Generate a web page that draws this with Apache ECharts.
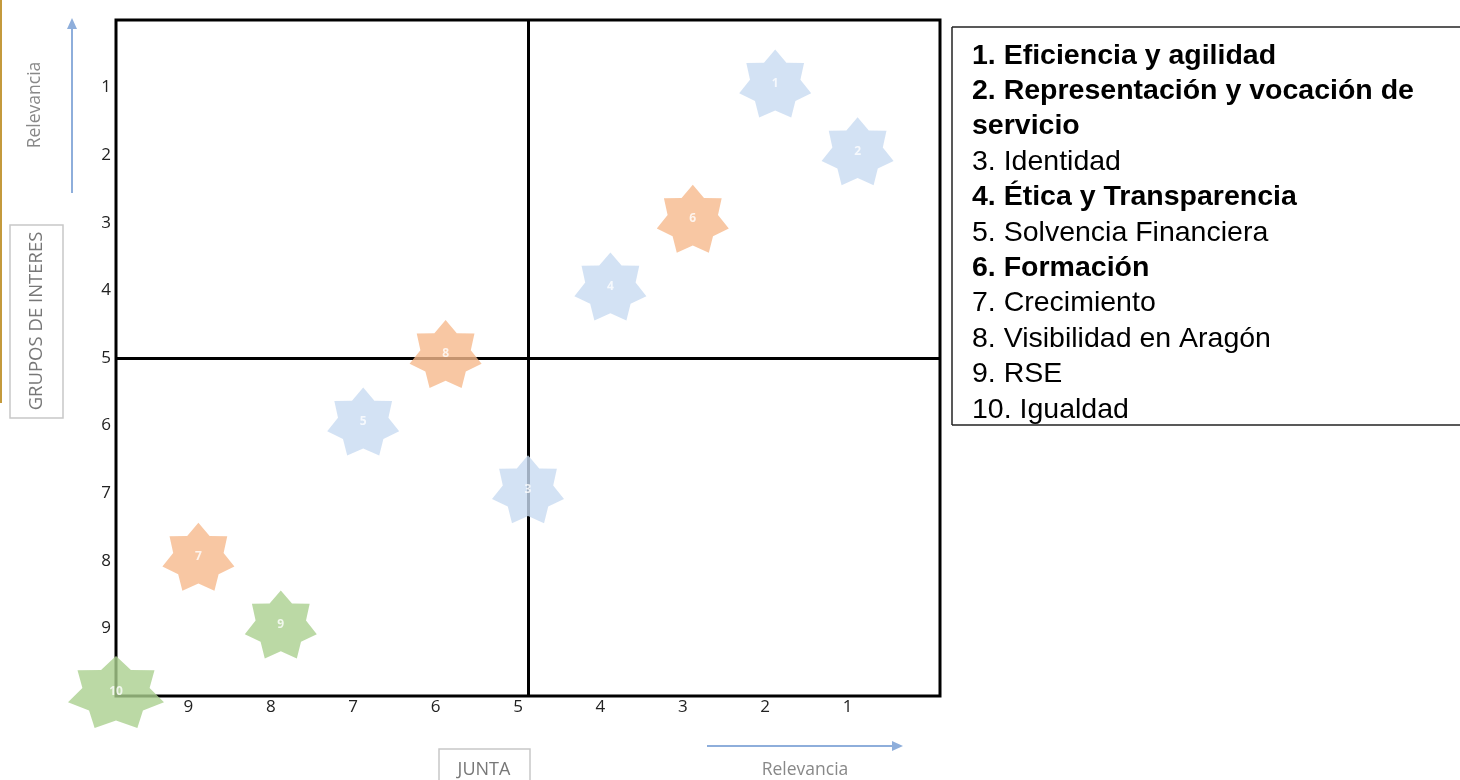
<!DOCTYPE html>
<html>
<head>
<meta charset="utf-8">
<script src="https://cdn.jsdelivr.net/npm/echarts@6/dist/echarts.min.js"></script>
<style>
html,body{margin:0;padding:0;background:#fff;}
#chart{width:1460px;height:780px;}
</style>
</head>
<body>
<div id="chart"></div>
<script>
// ---- data ----
const itemNames = [
  'Eficiencia y agilidad',
  'Representación y vocación de servicio',
  'Identidad',
  'Ética y Transparencia',
  'Solvencia Financiera',
  'Formación',
  'Crecimiento',
  'Visibilidad en Aragón',
  'RSE',
  'Igualdad'
];
const juntaRank  = [2, 1, 5, 4, 7, 3, 9, 6, 8, 10];   // x: JUNTA relevance rank
const gruposRank = [1, 2, 7, 4, 6, 3, 8, 5, 9, 10];   // y: GRUPOS DE INTERES relevance rank
const itemGroup  = ['blue','blue','blue','blue','blue','orange','orange','orange','green','green'];
const boldItems  = [1, 2, 4, 6];
const tickLabels = [1, 2, 3, 4, 5, 6, 7, 8, 9];
const midRank = 5;

// ---- styles ----
const groupColors = { blue: '#c8dbf1', orange: '#f6b98c', green: '#aad08f' };
function starPath(n, inner) {
  let d = '';
  for (let i = 0; i < 2 * n; i++) {
    const r = i % 2 ? inner : 1;
    const a = -Math.PI / 2 + i * Math.PI / n;
    d += (i ? 'L' : 'M') + (r * Math.cos(a)).toFixed(4) + ' ' + (r * Math.sin(a)).toFixed(4);
  }
  return 'path://' + d + 'Z';
}
const STAR = starPath(7, 0.7);

const points = itemNames.map((name, i) => ({
  name: (i + 1) + '. ' + name,
  value: [juntaRank[i], gruposRank[i]],
  label: { formatter: String(i + 1) },
  symbolSize: i === itemNames.length - 1 ? [96, 72] : [72, 68],
  itemStyle: { color: groupColors[itemGroup[i]] }
}));

const tickFmt = v => tickLabels.includes(v) ? String(v) : '';
const labelFont = '"Open Sans", sans-serif';
const legendFamily = '"Liberation Sans", Arial, sans-serif';

// legend text lines with word wrapping
const measureCtx = document.createElement('canvas').getContext('2d');
function wrapWords(text, font, maxW) {
  measureCtx.font = font;
  const words = text.split(' ');
  const lines = [];
  let cur = '';
  words.forEach(w => {
    const test = cur ? cur + ' ' + w : w;
    if (cur && measureCtx.measureText(test).width > maxW) { lines.push(cur); cur = w; }
    else cur = test;
  });
  if (cur) lines.push(cur);
  return lines;
}
const legendX = 972, legendTop = 38, legendLH = 35.4, legendW = 480;
const legendEls = [];
let lineIdx = 0;
itemNames.forEach((n, i) => {
  const bold = boldItems.includes(i + 1);
  const font = (bold ? 'bold ' : '') + '28.5px ' + legendFamily;
  wrapWords((i + 1) + '. ' + n, font, legendW).forEach(t => {
    legendEls.push({
      type: 'text', x: legendX, y: legendTop + lineIdx * legendLH,
      style: { text: t, font: font, fill: '#000', lineHeight: legendLH, verticalAlign: 'top', align: 'left' }
    });
    lineIdx++;
  });
});

const chart = echarts.init(document.getElementById('chart'));
chart.setOption({
  backgroundColor: '#fff',
  animation: false,
  grid: {
    left: 116, top: 20, width: 824, height: 676,
    show: true, borderColor: '#000', borderWidth: 3, backgroundColor: 'transparent',
    containLabel: false, outerBoundsMode: 'none'
  },
  xAxis: {
    type: 'value', inverse: true, min: 0, max: 10, interval: 1,
    axisLine: { show: false }, axisTick: { show: false }, splitLine: { show: false },
    axisLabel: {
      formatter: tickFmt, color: '#222', fontFamily: labelFont, fontSize: 17,
      margin: 3, padding: [0, 20, 0, 0]
    }
  },
  yAxis: {
    type: 'value', inverse: true, min: 0, max: 10, interval: 1,
    axisLine: { show: false }, axisTick: { show: false }, splitLine: { show: false },
    axisLabel: {
      formatter: tickFmt, color: '#222', fontFamily: labelFont, fontSize: 17,
      margin: 5, padding: [0, 0, 24, 0]
    }
  },
  series: [
    {
      type: 'scatter', z: 1, data: [], silent: true,
      markLine: {
        z: 1, silent: true, symbol: 'none', animation: false,
        label: { show: false },
        lineStyle: { color: '#000', width: 3, type: 'solid' },
        data: [{ xAxis: midRank }, { yAxis: midRank }]
      }
    },
    {
      type: 'scatter', z: 3,
      symbol: STAR,
      symbolOffset: [0, -4],
      data: points,
      label: {
        show: true, position: 'inside', color: '#fff', fontSize: 12, fontWeight: 'bold',
        fontFamily: labelFont
      }
    }
  ],
  graphic: [
    { type: 'line', shape: { x1: 1, y1: 0, x2: 1, y2: 403 }, style: { stroke: '#c49a3c', lineWidth: 2 } },
    // left axis caption
    { type: 'text', x: 35, y: 105, rotation: Math.PI / 2,
      style: { text: 'Relevancia', fill: '#888', font: '17.5px ' + labelFont, align: 'center', verticalAlign: 'middle' } },
    { type: 'line', shape: { x1: 72, y1: 193, x2: 72, y2: 28 }, style: { stroke: '#8eaedb', lineWidth: 2 } },
    { type: 'polygon', shape: { points: [[72, 18], [67, 29], [77, 29]] }, style: { fill: '#8eaedb' } },
    { type: 'rect', shape: { x: 10, y: 225, width: 53, height: 193 }, style: { fill: 'none', stroke: '#c8c8c8', lineWidth: 1.5 } },
    { type: 'text', x: 37, y: 321, rotation: Math.PI / 2,
      style: { text: 'GRUPOS DE INTERES', fill: '#777', font: '18.5px ' + labelFont, align: 'center', verticalAlign: 'middle' } },
    // bottom axis caption
    { type: 'rect', shape: { x: 439, y: 749, width: 91, height: 45 }, style: { fill: 'none', stroke: '#c8c8c8', lineWidth: 1.5 } },
    { type: 'text', x: 484, y: 770,
      style: { text: 'JUNTA', fill: '#777', font: '18px ' + labelFont, align: 'center', verticalAlign: 'middle' } },
    { type: 'line', shape: { x1: 707, y1: 746, x2: 893, y2: 746 }, style: { stroke: '#8eaedb', lineWidth: 2 } },
    { type: 'polygon', shape: { points: [[903, 746], [892, 741], [892, 751]] }, style: { fill: '#8eaedb' } },
    { type: 'text', x: 805, y: 770,
      style: { text: 'Relevancia', fill: '#888', font: '17.5px ' + labelFont, align: 'center', verticalAlign: 'middle' } },
    // legend box
    { type: 'line', shape: { x1: 952, y1: 27, x2: 1460, y2: 27 }, style: { stroke: '#222', lineWidth: 1.5 } },
    { type: 'line', shape: { x1: 952, y1: 425, x2: 1460, y2: 425 }, style: { stroke: '#222', lineWidth: 1.5 } },
    { type: 'line', shape: { x1: 952, y1: 27, x2: 952, y2: 425 }, style: { stroke: '#222', lineWidth: 1.5 } }
  ].concat(legendEls)
});
</script>
</body>
</html>
